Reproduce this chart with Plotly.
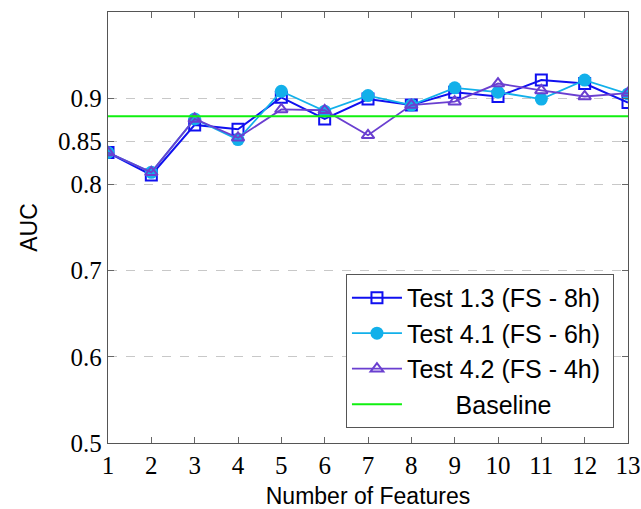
import plotly.graph_objects as go

features = list(range(1, 14))
test_1_3 = [0.837, 0.811, 0.869, 0.864, 0.901, 0.876, 0.899, 0.892, 0.907, 0.902, 0.921, 0.917, 0.895]
test_4_1 = [0.837, 0.814, 0.876, 0.852, 0.908, 0.885, 0.903, 0.892, 0.912, 0.907, 0.899, 0.921, 0.905]
test_4_2 = [0.837, 0.814, 0.876, 0.854, 0.887, 0.886, 0.857, 0.892, 0.896, 0.917, 0.909, 0.902, 0.906]
baseline = 0.879
ytick_vals = [0.5, 0.6, 0.7, 0.8, 0.85, 0.9]
ytick_text = ["0.5", "0.6", "0.7", "0.8", "0.85", "0.9"]

BLUE = "#1010f0"
CYAN = "#12b0ea"
PURPLE = "#6a3fd0"
GREEN = "#10f010"
SANS = "Liberation Sans, Arial, sans-serif"
SERIF = "Liberation Serif, DejaVu Serif, serif"
NB = "\u00a0"

fig = go.Figure()
fig.add_trace(go.Scatter(
    x=features, y=test_1_3, name="Test 1.3 (FS - 8h)" + NB, mode="lines+markers",
    line=dict(color=BLUE, width=2),
    marker=dict(symbol="square-open", size=11, color=BLUE, line=dict(width=2, color=BLUE)),
))
fig.add_trace(go.Scatter(
    x=features, y=test_4_1, name="Test 4.1 (FS - 6h)" + NB, mode="lines+markers",
    line=dict(color=CYAN, width=1.8),
    marker=dict(symbol="circle", size=13, color=CYAN),
))
fig.add_trace(go.Scatter(
    x=features, y=test_4_2, name="Test 4.2 (FS - 4h)" + NB, mode="lines+markers",
    line=dict(color=PURPLE, width=1.8),
    marker=dict(symbol="triangle-up-open", size=11, color=PURPLE, line=dict(width=2, color=PURPLE)),
))
fig.add_trace(go.Scatter(
    x=[features[0], features[-1]], y=[baseline, baseline], name="       Baseline", mode="lines",
    line=dict(color=GREEN, width=2),
))

fig.update_layout(
    width=641, height=509,
    margin=dict(l=108, r=13, t=12, b=66),
    plot_bgcolor="white", paper_bgcolor="white",
    showlegend=True,
    legend=dict(
        x=0.973, y=0.035, xanchor="right", yanchor="bottom",
        bordercolor="#555555", borderwidth=1, bgcolor="white",
        font=dict(family=SANS, size=25, color="black"),
        tracegroupgap=0, itemwidth=50,
    ),
)
fig.update_xaxes(
    range=[1, 13], tickmode="array", tickvals=features, automargin=False,
    ticks="inside", ticklen=6, tickcolor="#666666",
    showline=True, linecolor="#555555", linewidth=1.3, mirror="allticks",
    showgrid=False, zeroline=False,
    tickfont=dict(family=SERIF, size=25, color="black"),
    title=dict(text="Number of Features", font=dict(family=SANS, size=23, color="black"), standoff=9),
)
fig.update_yaxes(
    range=[0.5, 1.0], tickmode="array", tickvals=ytick_vals, ticktext=ytick_text, automargin=False,
    ticks="inside", ticklen=6, tickcolor="#666666",
    showline=True, linecolor="#555555", linewidth=1.3, mirror="allticks",
    showgrid=True, gridcolor="#c8c8c8", griddash="dash", gridwidth=1.2, zeroline=False,
    tickfont=dict(family=SERIF, size=25, color="black"),
    title=dict(text="AUC", font=dict(family=SANS, size=23, color="black"), standoff=14),
)

fig.write_html("out.html")
